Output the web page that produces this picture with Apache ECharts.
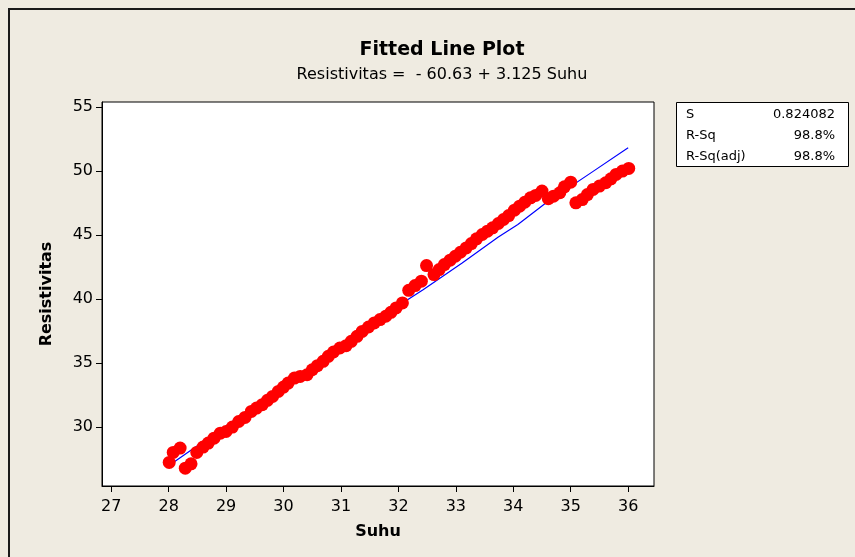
<!DOCTYPE html>
<html>
<head>
<meta charset="utf-8">
<script src="https://cdn.jsdelivr.net/npm/echarts@6/dist/echarts.min.js"></script>
<style>
html,body{margin:0;padding:0;background:#EFEBE1;}
#chart{width:855px;height:557px;}
</style>
</head>
<body>
<div id="chart"></div>
<script>
// Observed data: Suhu (x) vs Resistivitas (y)
const suhu = [28.01,28.08,28.20,28.29,28.39,28.49,28.60,28.69,28.79,28.90,29.00,29.11,29.22,29.33,29.44,29.53,29.63,29.72,29.81,29.91,30.00,30.08,30.19,30.29,30.41,30.50,30.59,30.69,30.78,30.87,30.98,31.09,31.18,31.28,31.37,31.48,31.58,31.68,31.78,31.87,31.96,32.07,32.18,32.29,32.40,32.49,32.62,32.71,32.80,32.90,32.99,33.08,33.18,33.27,33.36,33.46,33.55,33.64,33.74,33.83,33.92,34.02,34.11,34.20,34.30,34.39,34.50,34.61,34.70,34.81,34.89,35.00,35.09,35.20,35.29,35.39,35.50,35.61,35.70,35.79,35.90,36.01];
const resistivitas = [27.24,28.02,28.36,26.79,27.13,28.02,28.44,28.75,29.14,29.53,29.66,30.00,30.44,30.76,31.23,31.49,31.75,32.09,32.40,32.79,33.13,33.44,33.83,33.96,34.09,34.48,34.80,35.14,35.53,35.87,36.18,36.36,36.70,37.09,37.48,37.82,38.14,38.40,38.66,38.97,39.31,39.70,40.69,41.06,41.40,42.62,41.92,42.31,42.70,43.04,43.35,43.66,44.00,44.34,44.71,45.05,45.31,45.57,45.91,46.22,46.53,46.95,47.26,47.57,47.91,48.10,48.44,47.84,48.04,48.31,48.77,49.14,47.52,47.78,48.17,48.57,48.83,49.09,49.40,49.74,50.00,50.21];
// Fitted line as drawn in the picture
const fitX = [28.10,32.16,32.43,33.11,33.74,34.08,34.55,35.39,36.00];
const fitY = [27.30,39.95,40.74,42.83,44.85,45.83,47.45,49.98,51.83];
// Axis ticks
const xTicks = [27,28,29,30,31,32,33,34,35,36];
const yTicks = [30,35,40,45,50,55];
// Text
const titleText = 'Fitted Line Plot';
const subtitleText = 'Resistivitas =  - 60.63 + 3.125 Suhu';
const statLabels = ['S','R-Sq','R-Sq(adj)'];
const statValues = ['0.824082','98.8%','98.8%'];

const FONT = '"DejaVu Sans", Tahoma, sans-serif';
const chart = echarts.init(document.getElementById('chart'));

const statGraphics = [];
statLabels.forEach((lab, i) => {
  statGraphics.push({type:'text', left: 686, top: 108 + i*21, style:{text: lab, font: '13px ' + FONT, fill:'#000'}});
  statGraphics.push({type:'text', right: 855-835, top: 108 + i*21, style:{text: statValues[i], font: '13px ' + FONT, fill:'#000', textAlign:'right'}});
});

chart.setOption({
  backgroundColor: '#EFEBE1',
  animation: false,
  title: [
    {text: titleText, left: 437, top: 36, textAlign: 'center',
     textStyle:{fontFamily: FONT, fontWeight:'bold', fontSize: 19, color:'#000'}},
    {text: subtitleText, left: 437, top: 62, textAlign: 'center',
     textStyle:{fontFamily: FONT, fontWeight:'normal', fontSize: 16, color:'#000'}}
  ],
  grid: {left: 102, right: 201, top: 102, bottom: 71, show: true, backgroundColor:'#fff', borderColor:'#000', borderWidth:1},
  xAxis: {
    type:'value', min: 26.84, max: 36.45,
    name: 'Suhu', nameLocation:'middle', nameGap: 38,
    nameTextStyle:{fontFamily: FONT, fontWeight:'bold', fontSize:16, color:'#000'},
    axisLine:{show:true, lineStyle:{color:'#000', width:1}},
    axisTick:{show:true, length:6, lineStyle:{color:'#000'}, customValues: xTicks},
    axisLabel:{color:'#000', fontFamily: FONT, fontSize:16, margin:13, customValues: xTicks},
    splitLine:{show:false}
  },
  yAxis: {
    type:'value', min: 25.4, max: 55.4,
    name: 'Resistivitas', nameLocation:'middle', nameGap: 47, nameRotate: 90,
    nameTextStyle:{fontFamily: FONT, fontWeight:'bold', fontSize:16, color:'#000'},
    axisLine:{show:true, lineStyle:{color:'#000', width:1}},
    axisTick:{show:true, length:6, lineStyle:{color:'#000'}, customValues: yTicks},
    axisLabel:{color:'#000', fontFamily: FONT, fontSize:16, margin:9, customValues: yTicks},
    splitLine:{show:false}
  },
  series: [
    {type:'line', data: fitX.map((x,i)=>[x, fitY[i]]), symbol:'none', lineStyle:{color:'#0000FF', width:1.2}, z:2},
    {type:'scatter', data: suhu.map((x,i)=>[x, resistivitas[i]]), symbol:'circle', symbolSize: 13, itemStyle:{color:'#FF0000', opacity:1}, z:3}
  ],
  graphic: [
    {type:'polyline', shape:{points:[[9,557],[9,9],[855,9]]}, style:{stroke:'#1a1a1a', lineWidth:2, fill:null}},
    {type:'rect', shape:{x:676.5, y:102.5, width:172, height:64}, style:{fill:'#fff', stroke:'#000', lineWidth:1}},
    ...statGraphics
  ]
});
</script>
</body>
</html>
